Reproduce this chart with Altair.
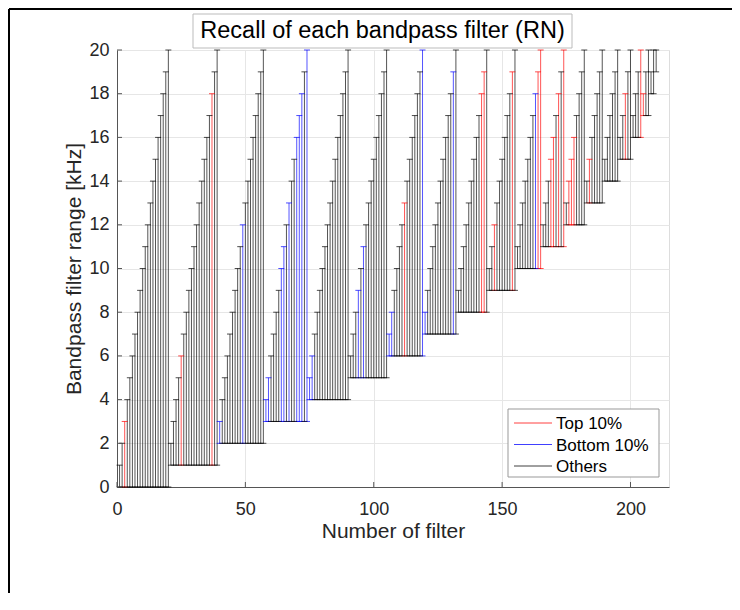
import altair as alt
import pandas as pd

# ---- data ----
LOWER_BOUNDS_KHZ = [0, 1, 2, 3, 4, 5, 6, 7, 8, 9, 10, 11, 12, 13, 14, 15, 16, 17, 18, 19]
UPPER_LIMIT_KHZ = 20

TOP_10 = [(0, 3), (1, 6), (1, 18), (6, 13), (8, 18), (8, 19), (9, 12), (9, 19),
          (10, 19), (10, 20), (11, 15), (11, 16), (11, 18), (11, 20), (12, 14),
          (12, 15), (12, 16), (13, 15), (15, 18), (16, 20), (17, 18)]
BOTTOM_10 = [(2, 3), (2, 12), (3, 4), (3, 5), (3, 10), (3, 11), (3, 13), (3, 16),
             (3, 17), (3, 18), (3, 20), (4, 5), (4, 6), (5, 9), (5, 11), (6, 7),
             (6, 8), (6, 20), (7, 8), (7, 19), (10, 18)]

CATEGORIES = ["Top 10%", "Bottom 10%", "Others"]
CAT_COLORS = ["#ff0000", "#0000ff", "#000000"]
X_TICKS = [0, 50, 100, 150, 200]
Y_TICKS = [0, 2, 4, 6, 8, 10, 12, 14, 16, 18, 20]

rows = []
n = 0
for lo in LOWER_BOUNDS_KHZ:
    for hi in range(lo + 1, UPPER_LIMIT_KHZ + 1):
        n += 1
        if (lo, hi) in TOP_10:
            cat = "Top 10%"
        elif (lo, hi) in BOTTOM_10:
            cat = "Bottom 10%"
        else:
            cat = "Others"
        rows.append({"n": n, "low": lo, "high": hi, "cat": cat,
                     "z": CATEGORIES.index(cat)})
df = pd.DataFrame(rows).sort_values(["z", "n"])

FONT = "Liberation Sans"
TXT = "#262626"

xscale = alt.Scale(domain=[0, 215], nice=False, zero=False)
yscale = alt.Scale(domain=[0, 20], nice=False)
cscale = alt.Scale(domain=CATEGORIES, range=CAT_COLORS)

xaxis = alt.Axis(values=X_TICKS, title="Number of filter", grid=True,
                 gridColor="#e6e6e6", tickSize=0, labelPadding=13,
                 labelFlush=False, labelOverlap=False,
                 labelFontSize=18, labelFont=FONT, labelColor=TXT,
                 titleFontSize=21, titleFont=FONT, titleColor=TXT,
                 titleFontWeight="normal", titlePadding=2,
                 domainColor="#555555")
yaxis = alt.Axis(values=Y_TICKS, title="Bandpass filter range [kHz]", grid=True,
                 gridColor="#e6e6e6", tickSize=0, labelPadding=8,
                 labelFlush=False, labelOverlap=False,
                 labelFontSize=18, labelFont=FONT, labelColor=TXT,
                 titleFontSize=21, titleFont=FONT, titleColor=TXT,
                 titleFontWeight="normal", titlePadding=4,
                 domainColor="#555555")

base = alt.Chart(df)

vlines = base.mark_rule(strokeWidth=0.9, strokeOpacity=0.75).encode(
    x=alt.X("n:Q", scale=xscale, axis=xaxis),
    y=alt.Y("low:Q", scale=yscale, axis=yaxis),
    y2="high:Q",
    color=alt.Color("cat:N", scale=cscale, legend=None),
)
caps_low = base.mark_tick(orient="horizontal", size=6, thickness=1).encode(
    x=alt.X("n:Q", scale=xscale),
    y=alt.Y("low:Q", scale=yscale),
    color=alt.Color("cat:N", scale=cscale, legend=None),
)
caps_high = base.mark_tick(orient="horizontal", size=6, thickness=1).encode(
    x=alt.X("n:Q", scale=xscale),
    y=alt.Y("high:Q", scale=yscale),
    color=alt.Color("cat:N", scale=cscale, legend=None),
)

# inward MATLAB-style ticks
xt = alt.Chart(pd.DataFrame({"t": X_TICKS})).mark_rule(color="#555555").encode(
    x=alt.X("t:Q", scale=xscale), y=alt.value(437), y2=alt.value(432))
yt = alt.Chart(pd.DataFrame({"t": Y_TICKS})).mark_rule(color="#555555").encode(
    y=alt.Y("t:Q", scale=yscale), x=alt.value(0), x2=alt.value(5))

one = pd.DataFrame({"a": [0]})
title_box = alt.Chart(one).mark_rect(fill="white", stroke="#bbbbbb",
                                     strokeWidth=1, clip=False).encode(
    x=alt.value(76), x2=alt.value(455), y=alt.value(-36), y2=alt.value(-2))
title_txt = alt.Chart(one).mark_text(
    text="Recall of each bandpass filter (RN)", font=FONT, fontSize=23.5,
    color="#000000", align="center", baseline="middle", clip=False).encode(
    x=alt.value(265.5), y=alt.value(-19))
frame_top = alt.Chart(one).mark_rule(color="#000000", strokeWidth=2, clip=False).encode(
    x=alt.value(-108), x2=alt.value(615), y=alt.value(-41))
frame_left = alt.Chart(one).mark_rule(color="#000000", strokeWidth=2, clip=False).encode(
    x=alt.value(-108), y=alt.value(-41), y2=alt.value(543))

# legend box (drawn with marks, lower right of the axes)
legend_layers = [alt.Chart(one).mark_rect(fill="white", stroke="#999999",
                                          strokeWidth=1).encode(
    x=alt.value(391), x2=alt.value(542), y=alt.value(359), y2=alt.value(427))]
for i, (cat, col) in enumerate(zip(CATEGORIES, CAT_COLORS)):
    yy = 373 + i * 21.5
    legend_layers.append(alt.Chart(one).mark_rule(color=col, strokeWidth=1,
                                                  strokeOpacity=0.75).encode(
        x=alt.value(397), x2=alt.value(435), y=alt.value(yy)))
    legend_layers.append(alt.Chart(one).mark_text(
        text=cat, font=FONT, fontSize=17, color="#000000", align="left",
        baseline="middle").encode(x=alt.value(439), y=alt.value(yy + 1)))

chart = alt.layer(
    vlines, caps_low, caps_high, xt, yt, title_box, title_txt, frame_top, frame_left,
    *legend_layers
).properties(
    width=552, height=437,
    autosize=alt.AutoSizeParams(type="none"),
    padding={"left": 109, "top": 42, "right": 63, "bottom": 106},
).configure_view(stroke="#555555", strokeWidth=1).configure(background="white")

chart.save("out.html", embed_options={"renderer": "svg", "actions": False})
